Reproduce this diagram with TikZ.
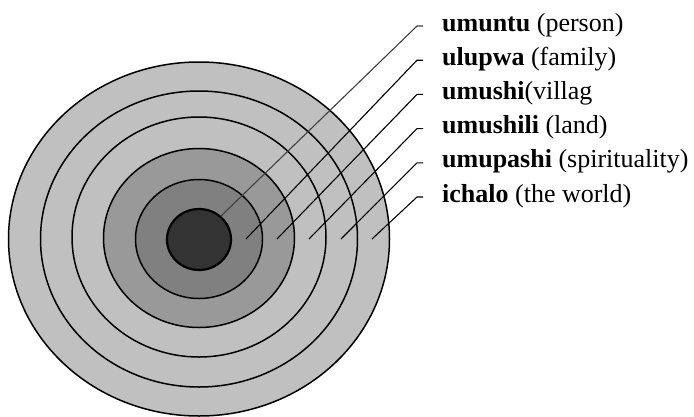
\documentclass[tikz,border=0pt]{standalone}
\usepackage{fontspec}
\setmainfont{Liberation Serif}
\usepackage{xcolor}
\definecolor{ringlight}{gray}{0.753}
\definecolor{ringmid}{gray}{0.6}
\definecolor{ringinner}{gray}{0.5}
\definecolor{ringcore}{gray}{0.2}
\definecolor{leadgray}{gray}{0.25}

\begin{document}
\begin{tikzpicture}[x=1pt, y=-1pt,
  ring/.style={draw=black, line width=1.5pt},
  leader/.style={draw=black, line width=1.1pt},
  lbl/.style={anchor=base west, inner sep=0pt, font=\fontsize{26}{30}\selectfont}]
\useasboundingbox (0,0) rectangle (694,416);
% rings, outside in
\filldraw[ring, fill=ringlight] (199,239) ellipse [x radius=190.5pt, y radius=177pt];
\filldraw[ring, fill=ringlight] (199,239) ellipse [x radius=158.5pt, y radius=148pt];
\filldraw[ring, fill=ringlight] (199,237) ellipse [x radius=127pt, y radius=120pt];
\filldraw[ring, fill=ringmid] (199,238) ellipse [x radius=95.5pt, y radius=89.5pt];
\filldraw[ring, fill=ringinner] (199,239) ellipse [x radius=63.5pt, y radius=59.5pt];
\filldraw[ring, line width=2.2pt, fill=ringcore] (199,239.5) ellipse [x radius=32pt, y radius=30.5pt];
% labels
\node[lbl] (umuntu) at (442,31) {\textbf{umuntu} (person)};
\node[lbl] (ulupwa) at (442,65.2) {\textbf{ulupwa} (family)};
\node[lbl] (umushi) at (442,99.4) {\textbf{umushi}(villag};
\node[lbl] (umushili) at (442,133.6) {\textbf{umushili} (land)};
\node[lbl] (umupashi) at (442,167.8) {\textbf{umupashi} (spirituality)};
\node[lbl] (ichalo) at (442,202) {\textbf{ichalo} (the world)};
% leader ends inside the rings
\coordinate (inUmuntu) at (221,216);
\coordinate (inUlupwa) at (246,239);
\coordinate (inUmushi) at (277,239);
\coordinate (inUmushili) at (309,239);
\coordinate (inUmupashi) at (341,239);
\coordinate (inIchalo) at (372,239);
% leaders
\draw[leader, draw=leadgray] (inUmuntu) -- ([xshift=-25pt,yshift=5pt]umuntu.base west) -- ([xshift=-19pt,yshift=5pt]umuntu.base west);
\draw[leader] (inUlupwa) -- ([xshift=-25pt,yshift=5pt]ulupwa.base west) -- ([xshift=-19pt,yshift=5pt]ulupwa.base west);
\draw[leader] (inUmushi) -- ([xshift=-25pt,yshift=5pt]umushi.base west) -- ([xshift=-19pt,yshift=5pt]umushi.base west);
\draw[leader] (inUmushili) -- ([xshift=-25pt,yshift=5pt]umushili.base west) -- ([xshift=-19pt,yshift=5pt]umushili.base west);
\draw[leader] (inUmupashi) -- ([xshift=-25pt,yshift=5pt]umupashi.base west) -- ([xshift=-19pt,yshift=5pt]umupashi.base west);
\draw[leader] (inIchalo) -- ([xshift=-25pt,yshift=5pt]ichalo.base west) -- ([xshift=-19pt,yshift=5pt]ichalo.base west);
\end{tikzpicture}
\end{document}
